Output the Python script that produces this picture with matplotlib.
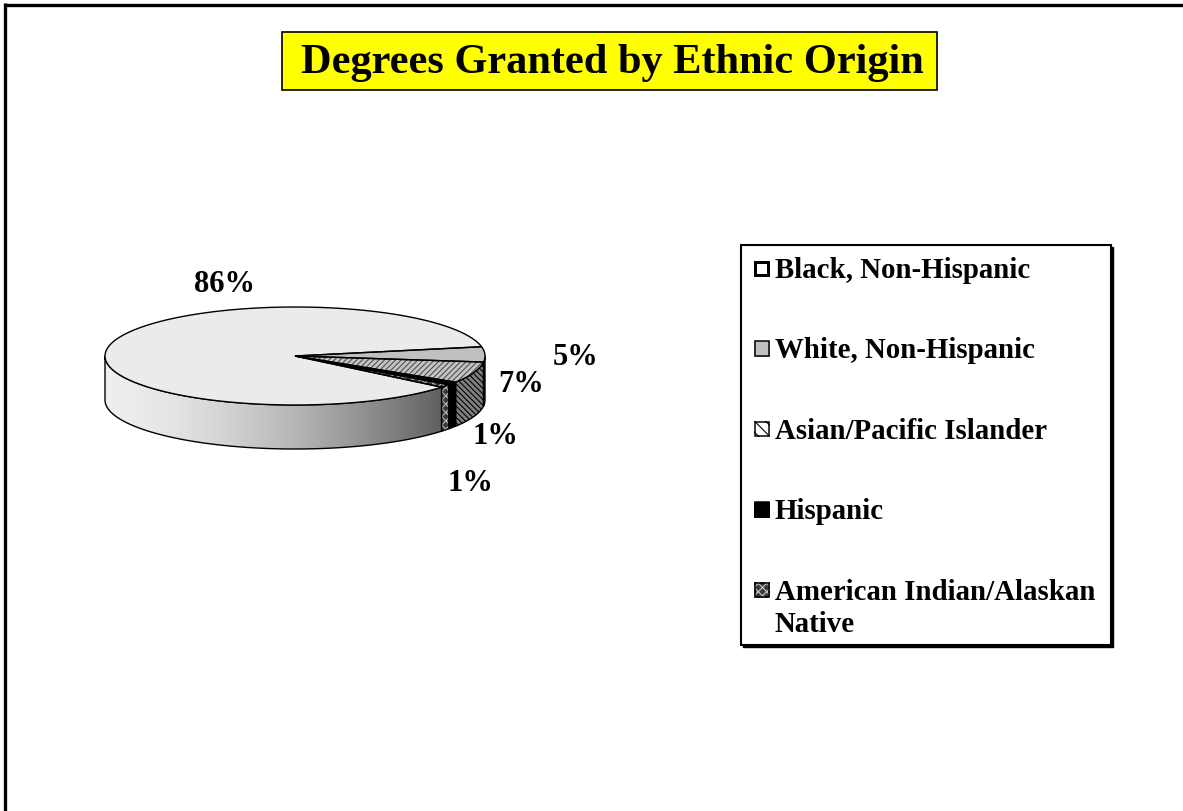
import numpy as np
import matplotlib
matplotlib.use("Agg")
import matplotlib.pyplot as plt
from matplotlib.patches import Polygon, Rectangle
from matplotlib.lines import Line2D

# ---------------- data ----------------
categories = ["Black, Non-Hispanic", "White, Non-Hispanic", "Asian/Pacific Islander",
              "Hispanic", "American Indian/Alaskan\nNative"]
values = [86, 5, 7, 1, 1]
pct_labels = ["86%", "5%", "7%", "1%", "1%"]
title = "Degrees Granted by Ethnic Origin"

# ---------------- styles ----------------
top_face = ["#ebebeb", "#c0c0c0", "#c4c4c4", "#000000", "#3a3a3a"]
top_hatch = [None, None, "//////", None, "xxxx"]
top_hcol = [None, None, "#505050", None, "#b8b8b8"]
side_face = [None, "#9a9a9a", "#808080", "#000000", "#3a3a3a"]
side_hatch = [None, None, "\\\\\\\\\\\\", None, "xxxx"]
side_hcol = [None, None, "#000000", None, "#b8b8b8"]
leg_face = ["#ffffff", "#c0c0c0", "#ffffff", "#000000", "#3a3a3a"]
leg_hatch = [None, None, "\\\\\\", None, "xxxx"]
leg_hcol = [None, None, "#000000", None, "#c8c8c8"]
leg_edge_w = [3.0, 1.5, 1.5, 1.5, 1.5]

FONT = "Liberation Serif"
W, H = 1183, 812
fig = plt.figure(figsize=(W / 100, H / 100), dpi=100)
ax = fig.add_axes([0, 0, 1, 1])
ax.set_xlim(0, W)
ax.set_ylim(H, 0)
ax.axis("off")

plt.rcParams["hatch.linewidth"] = 0.8

# frame lines (top and left)
ax.add_line(Line2D([4, W], [5.5, 5.5], color="black", lw=2.4, solid_capstyle="butt"))
ax.add_line(Line2D([5.5, 5.5], [4, H], color="black", lw=2.4, solid_capstyle="butt"))

# title
ax.add_patch(Rectangle((282, 33), 655, 58, facecolor="#ffff00", edgecolor="black", lw=1.2))
ax.text(612, 63, title, ha="center", va="center", fontsize=30.5, fontweight="bold",
        family=FONT)

# ---------------- 3D pie ----------------
cx, cy, rx, ry, depth = 295, 357, 190, 49, 44
start = -39.5

def arc(t0, t1, dz=0.0, n=200):
    t = np.radians(np.linspace(t0, t1, n))
    return np.column_stack([cx + rx * np.cos(t), cy - ry * np.sin(t) + dz])

def draw_patch(verts, face, hatch, hcol, z, lw=1.0):
    ax.add_patch(Polygon(verts, closed=True, facecolor=face, edgecolor="none", zorder=z))
    if hatch:
        ax.add_patch(Polygon(verts, closed=True, fill=False, hatch=hatch,
                             edgecolor=hcol, lw=0, zorder=z + 0.1))
    ax.add_patch(Polygon(verts, closed=True, fill=False, edgecolor="black", lw=lw,
                         zorder=z + 0.2))

vals = np.array(values, dtype=float)
fr = vals / vals.sum() * 360.0
a_start = start - np.concatenate([[0], np.cumsum(fr)[:-1]])
a_end = a_start - fr

# sides
for i in range(len(values)):
    for k in (-1, 0, 1):
        lo = max(a_end[i], -180 + 360 * k)
        hi = min(a_start[i], 0 + 360 * k)
        if hi - lo <= 0.01:
            continue
        topa = arc(lo, hi)
        bota = arc(hi, lo, dz=depth)
        verts = np.vstack([topa, bota])
        if side_face[i] is None:
            # gradient shading
            x0, x1 = verts[:, 0].min(), verts[:, 0].max()
            f = np.linspace(0, 1, 400)
            g = 0.935 - 0.56 * f ** 1.6
            img = np.dstack([g, g, g]).repeat(2, axis=0)
            poly = Polygon(verts, closed=True, facecolor="none", edgecolor="none")
            ax.add_patch(poly)
            im = ax.imshow(img, extent=(x0, x1, cy + depth + ry + 5, cy - ry - 5),
                           aspect="auto", zorder=1, interpolation="bilinear")
            im.set_clip_path(poly)
            ax.add_patch(Polygon(verts, closed=True, fill=False, edgecolor="black",
                                 lw=1.0, zorder=1.2))
        else:
            draw_patch(verts, side_face[i], side_hatch[i], side_hcol[i], 2)

# tops
for i in range(len(values)):
    verts = np.vstack([[cx, cy], arc(a_start[i], a_end[i])])
    draw_patch(verts, top_face[i], top_hatch[i], top_hcol[i], 3)

ax.set_xlim(0, W)
ax.set_ylim(H, 0)

# percentage labels
label_pos = [(225, 285), (576, 358), (521, 385), (495, 437), (470, 484)]
for lab, (lx, ly) in zip(pct_labels, label_pos):
    ax.text(lx, ly, lab, ha="center", va="center", fontsize=22, fontweight="bold",
            family=FONT, zorder=5)

# ---------------- legend ----------------
lx0, ly0, lw_, lh_ = 741, 246, 370, 400
ax.add_patch(Rectangle((lx0 + 2, ly0 + 2), lw_, lh_, facecolor="black", edgecolor="black",
                       lw=1.0, zorder=5))
ax.add_patch(Rectangle((lx0, ly0), lw_, lh_, facecolor="white", edgecolor="black",
                       lw=1.5, zorder=5.1))
step = 80.5
line_h = 32
for i, cat in enumerate(categories):
    yc = 269 + i * step
    s = 8
    sq = [(754, yc - s), (770, yc - s), (770, yc + s), (754, yc + s)]
    ax.add_patch(Polygon(sq, closed=True, facecolor=leg_face[i], edgecolor="none", zorder=6))
    if leg_hatch[i]:
        ax.add_patch(Polygon(sq, closed=True, fill=False, hatch=leg_hatch[i],
                             edgecolor=leg_hcol[i], lw=0, zorder=6.1))
    ax.add_patch(Polygon([(754 + leg_edge_w[i] / 2, yc - s + leg_edge_w[i] / 2),
                          (770 - leg_edge_w[i] / 2, yc - s + leg_edge_w[i] / 2),
                          (770 - leg_edge_w[i] / 2, yc + s - leg_edge_w[i] / 2),
                          (754 + leg_edge_w[i] / 2, yc + s - leg_edge_w[i] / 2)],
                         closed=True, fill=False, edgecolor="black",
                         lw=leg_edge_w[i] * 0.72, zorder=6.2, joinstyle="miter"))
    for j, line in enumerate(cat.split("\n")):
        ax.text(775, yc + 9 + j * line_h, line, ha="left", va="baseline", fontsize=20.8,
                fontweight="bold", family=FONT, zorder=6)

fig.savefig("out.png", dpi=100)
